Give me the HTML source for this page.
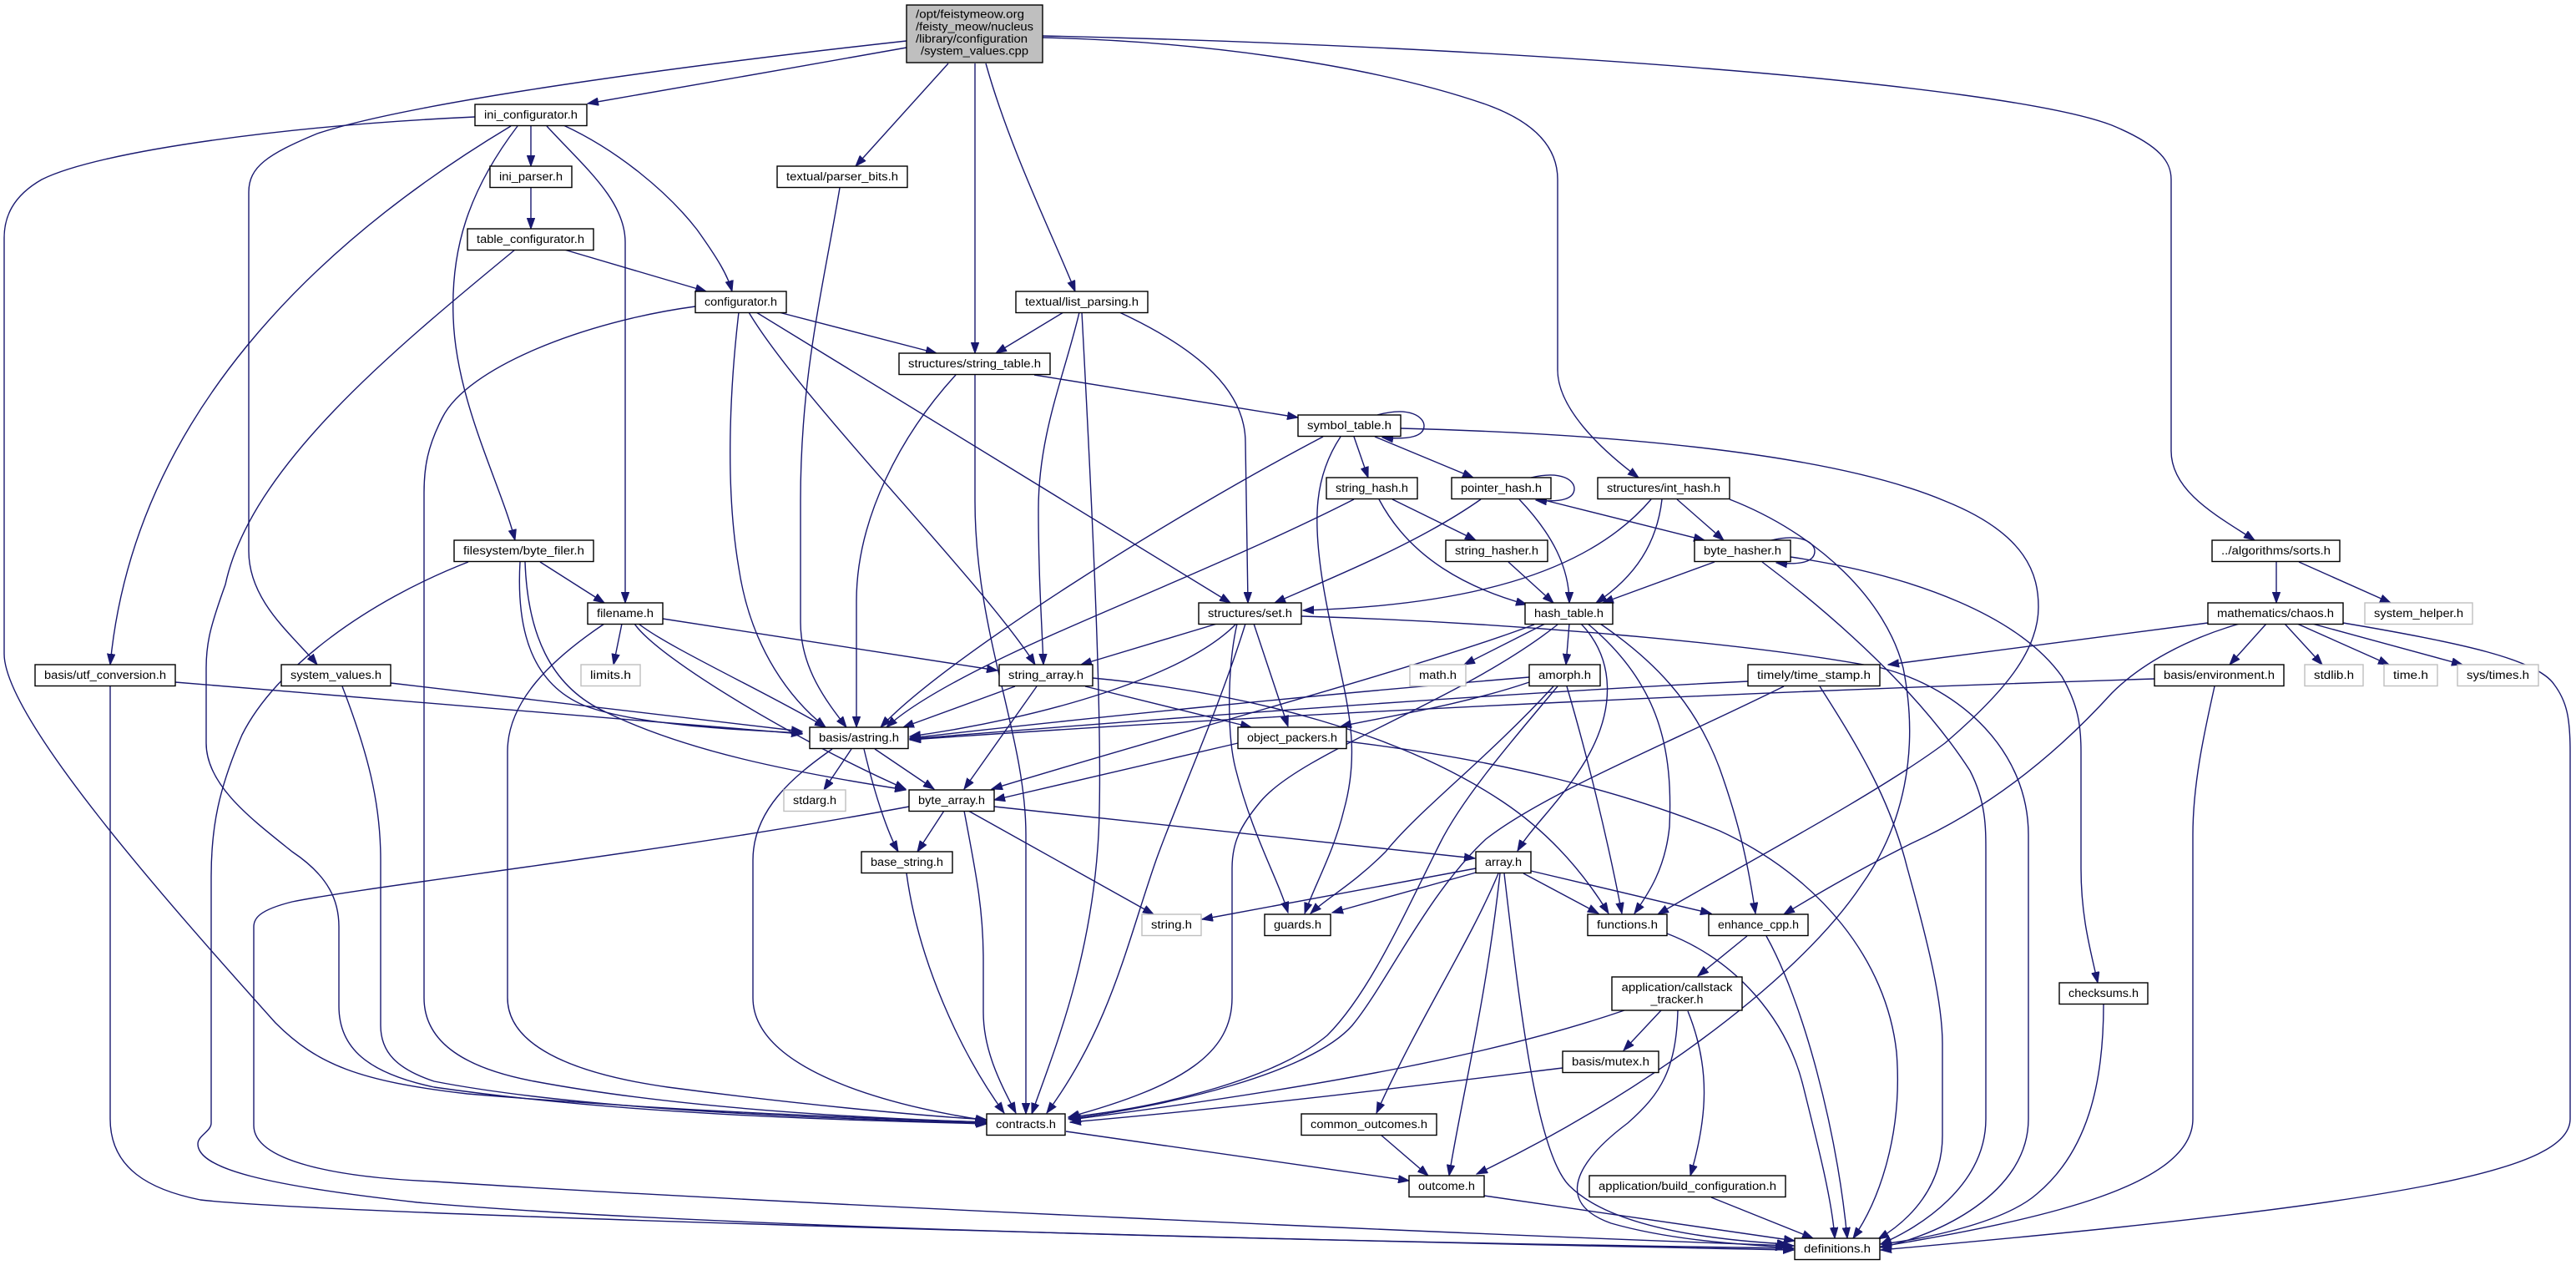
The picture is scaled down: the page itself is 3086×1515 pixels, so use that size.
<!DOCTYPE html>
<html><head><meta charset="utf-8"><style>
html,body{margin:0;padding:0;background:#fff;}
svg{display:block;}
.e{fill:none;stroke:#191970;stroke-width:1.4;marker-end:url(#a);}
.n{fill:#fff;stroke:#000;stroke-width:1.4;}
.g{fill:#fff;stroke:#bfbfbf;stroke-width:1.4;}
text{font-family:"Liberation Sans",sans-serif;font-size:13.5px;fill:#000;text-anchor:middle;}
</style></head><body>
<svg width="3086" height="1515" viewBox="0 0 3086 1515" xmlns="http://www.w3.org/2000/svg">
<defs><marker id="a" markerUnits="userSpaceOnUse" markerWidth="14" markerHeight="10" refX="13" refY="5" orient="auto"><path d="M0,0.3 L13,5 L0,9.7 Z" fill="#191970" stroke="#191970" stroke-width="1"/></marker></defs>
<rect width="3086" height="1515" fill="#fff"/>
<g>
<!-- root edges -->
<path class="e" d="M1086,57 C960,80 820,103 704,124"/>
<path class="e" d="M1086,49 C850,75 500,120 380,160 C320,185 298,200 298,230 L298,660 C298,720 350,760 380,796"/>
<path class="e" d="M1136,76 L1025,199"/>
<path class="e" d="M1168,76 L1168,423"/>
<path class="e" d="M1181,76 C1210,180 1265,290 1288,349"/>
<path class="e" d="M1249,45 C1450,50 1650,80 1780,125 C1850,150 1866,185 1866,215 L1866,443 C1866,490 1920,540 1963,572"/>
<path class="e" d="M1249,43 C1800,55 2400,100 2530,150 C2590,175 2601,195 2601,215 L2601,540 C2601,590 2660,620 2701,647"/>
<!-- ini_configurator -->
<path class="e" d="M636,150 L636,199"/>
<path class="e" d="M569,140 C350,150 120,180 50,215 C15,235 5,260 5,285 L5,783 C5,860 200,1080 330,1225 C380,1275 430,1295 560,1310 C800,1330 1000,1338 1181,1344"/>
<path class="e" d="M612,151 C380,290 160,500 132,796"/>
<path class="e" d="M620,151 C560,230 540,300 543,380 C546,480 600,580 617,647"/>
<path class="e" d="M655,151 C700,200 749,240 749,290 L749,722"/>
<path class="e" d="M675,150 C740,180 800,230 835,275 C860,310 872,330 877,349"/>
<path class="e" d="M636,225 L636,274"/>
<!-- table_configurator -->
<path class="e" d="M676,299 L846,349"/>
<path class="e" d="M617,299 C470,420 300,560 270,700 C252,750 247,770 247,800 L247,890 C247,940 300,980 350,1020 C395,1050 406,1080 406,1110 L406,1205 C406,1255 440,1285 520,1302 C750,1335 1000,1341 1182,1346"/>
<!-- parser_bits -->
<path class="e" d="M1006,225 C985,350 959,450 959,600 L959,745 C959,800 990,840 1014,871"/>
<!-- configurator -->
<path class="e" d="M933,374 L1122,423"/>
<path class="e" d="M833,367 C700,385 560,440 530,500 C512,535 508,560 508,590 L508,1195 C508,1250 560,1280 640,1295 C800,1325 1000,1338 1182,1344"/>
<path class="e" d="M885,374 C875,460 868,580 885,680 C900,780 950,840 989,871"/>
<path class="e" d="M897,374 C960,480 1180,700 1240,796"/>
<path class="e" d="M906,374 L1474,722"/>
<!-- list_parsing -->
<path class="e" d="M1274,374 L1193,423"/>
<path class="e" d="M1293,374 C1275,450 1244,520 1244,610 C1244,690 1248,745 1250,796"/>
<path class="e" d="M1296,374 C1308,600 1322,880 1316,1000 C1308,1150 1262,1260 1236,1334"/>
<path class="e" d="M1341,374 C1440,420 1492,470 1492,530 L1495,722"/>
<!-- string_table -->
<path class="e" d="M1145,449 C1080,520 1026,620 1026,720 L1026,871"/>
<path class="e" d="M1168,449 L1168,600 C1168,760 1229,880 1229,1000 L1229,1334"/>
<path class="e" d="M1239,449 L1555,500"/>
<!-- symbol_table -->
<path class="e" d="M1650,497 C1690,486 1706,500 1706,510 C1706,522 1690,527 1656,524"/>
<path class="e" d="M1678,513 C1950,520 2200,545 2330,600 C2430,640 2442,690 2442,727 C2442,780 2400,830 2330,890 C2250,950 2080,1040 1986,1095"/>
<path class="e" d="M1622,523 L1639,572"/>
<path class="e" d="M1647,523 L1765,572"/>
<path class="e" d="M1606,523 C1575,570 1572,620 1585,700 C1605,820 1635,880 1610,970 C1598,1020 1575,1060 1563,1094"/>
<path class="e" d="M1585,523 C1400,620 1130,790 1055,871"/>
<!-- string_hash -->
<path class="e" d="M1622,598 C1500,660 1350,720 1250,765 C1150,810 1090,845 1062,871"/>
<path class="e" d="M1652,598 C1690,670 1760,705 1829,724"/>
<path class="e" d="M1668,598 L1768,647"/>
<!-- pointer_hash -->
<path class="e" d="M1834,572 C1872,563 1886,576 1886,585 C1886,597 1872,602 1840,599"/>
<path class="e" d="M1774,598 C1700,650 1600,690 1527,722"/>
<path class="e" d="M1820,598 C1860,640 1880,680 1880,722"/>
<path class="e" d="M1846,598 L2042,647"/>
<!-- int_hash -->
<path class="e" d="M1978,598 C1900,690 1750,725 1561,731"/>
<path class="e" d="M1991,598 C1985,650 1960,690 1912,722"/>
<path class="e" d="M2009,598 L2065,647"/>
<path class="e" d="M2072,598 C2180,640 2260,720 2280,800 C2300,900 2280,990 2230,1060 C2150,1180 1950,1320 1769,1406"/>
<!-- byte_hasher -->
<path class="e" d="M2122,647 C2160,638 2174,651 2174,660 C2174,672 2160,677 2128,674"/>
<path class="e" d="M2054,673 L1920,722"/>
<path class="e" d="M2145,667 C2300,690 2420,740 2470,810 C2490,845 2493,870 2493,900 L2493,1040 C2493,1100 2505,1140 2513,1177"/>
<path class="e" d="M2111,673 C2200,740 2300,830 2360,923 C2379,960 2379,990 2379,1020 L2379,1340 C2379,1420 2300,1470 2253,1490"/>
<path class="e" d="M1807,673 L1861,722"/>
<!-- sorts -->
<path class="e" d="M2727,673 L2727,722"/>
<path class="e" d="M2754,673 L2864,722"/>
<!-- byte_filer -->
<path class="e" d="M647,673 L724,722"/>
<path class="e" d="M623,673 C618,760 640,820 700,845 C760,868 880,874 961,878"/>
<path class="e" d="M629,673 C632,760 660,820 720,850 C820,900 950,925 1085,946"/>
<path class="e" d="M561,673 C440,720 330,800 290,880 C262,945 253,990 253,1050 L253,1345 C253,1355 237,1360 237,1370 C237,1400 320,1420 500,1440 C900,1475 1800,1490 2149,1495"/>
<!-- utf / system_values -->
<path class="e" d="M210,817 L961,879"/>
<path class="e" d="M132,822 L132,1340 C132,1400 180,1425 240,1437 C400,1455 1500,1485 2149,1497"/>
<path class="e" d="M468,818 L961,876"/>
<path class="e" d="M410,822 C440,900 456,960 456,1030 L456,1228 C456,1260 475,1280 520,1295 C700,1330 1000,1340 1182,1345"/>
<!-- filename -->
<path class="e" d="M745,747 L735,796"/>
<path class="e" d="M794,741 L1195,803"/>
<path class="e" d="M765,747 C800,775 920,830 989,871"/>
<path class="e" d="M760,747 C790,790 960,890 1085,945"/>
<path class="e" d="M724,747 C660,790 608,840 608,900 L608,1195 C608,1250 680,1285 800,1302 C950,1322 1100,1336 1182,1341"/>
<!-- set -->
<path class="e" d="M1458,747 L1295,796"/>
<path class="e" d="M1481,747 C1420,810 1250,860 1090,882"/>
<path class="e" d="M1502,747 L1543,870"/>
<path class="e" d="M1482,747 C1470,800 1470,880 1480,920 C1500,1000 1530,1050 1543,1093"/>
<path class="e" d="M1492,747 C1460,850 1410,960 1385,1030 C1350,1130 1330,1230 1254,1333"/>
<path class="e" d="M1559,738 C1800,745 2100,770 2254,800 C2350,825 2430,900 2430,1000 L2430,1340 C2430,1430 2320,1480 2253,1494"/>
<!-- hash_table -->
<path class="e" d="M1851,747 L1754,796"/>
<path class="e" d="M1880,747 L1876,796"/>
<path class="e" d="M1894,747 C1935,790 1935,850 1900,910 C1870,960 1835,990 1818,1019"/>
<path class="e" d="M1902,747 C1990,820 2004,900 2000,990 C1995,1040 1975,1070 1958,1094"/>
<path class="e" d="M1917,747 C1980,790 2030,840 2060,920 C2085,990 2095,1040 2103,1094"/>
<path class="e" d="M1838,748 C1700,800 1400,880 1188,945"/>
<path class="e" d="M1866,748 C1750,840 1560,900 1510,960 C1485,990 1476,1010 1476,1040 L1476,1195 C1476,1260 1420,1300 1280,1338"/>
<!-- string_array -->
<path class="e" d="M1216,822 L1082,871"/>
<path class="e" d="M1242,822 L1155,945"/>
<path class="e" d="M1300,822 L1499,871"/>
<path class="e" d="M1309,812 C1500,830 1680,880 1800,960 C1860,1000 1900,1050 1927,1094"/>
<!-- amorph -->
<path class="e" d="M1832,811 C1600,830 1300,860 1090,884"/>
<path class="e" d="M1832,817 C1750,845 1650,860 1606,870"/>
<path class="e" d="M1861,822 C1780,910 1700,970 1660,1020 C1620,1060 1590,1075 1570,1094"/>
<path class="e" d="M1866,822 C1800,900 1750,960 1725,1010 C1680,1100 1640,1190 1590,1240 C1530,1290 1400,1325 1280,1338"/>
<path class="e" d="M1877,822 C1900,900 1925,1000 1943,1094"/>
<!-- time_stamp -->
<path class="e" d="M2094,816 C1800,830 1400,860 1090,885"/>
<path class="e" d="M2137,822 C2000,890 1850,950 1780,1005 C1710,1070 1660,1180 1620,1228 C1570,1285 1400,1325 1280,1340"/>
<path class="e" d="M2180,822 C2230,900 2265,960 2285,1040 C2310,1130 2327,1200 2327,1250 L2327,1360 C2327,1420 2290,1460 2250,1484"/>
<!-- environment -->
<path class="e" d="M2581,813 C2200,825 1600,850 1090,886"/>
<path class="e" d="M2653,822 C2640,880 2627,940 2627,1000 L2627,1340 C2627,1420 2450,1460 2253,1493"/>
<!-- chaos -->
<path class="e" d="M2645,746 L2262,796"/>
<path class="e" d="M2683,747 C2620,765 2565,795 2530,830 C2480,885 2400,960 2290,1010 C2220,1045 2170,1075 2137,1095"/>
<path class="e" d="M2715,747 L2671,796"/>
<path class="e" d="M2737,747 L2782,796"/>
<path class="e" d="M2752,747 L2862,796"/>
<path class="e" d="M2770,747 L2950,796"/>
<path class="e" d="M2807,746 C2950,770 3040,790 3060,820 C3075,840 3079,860 3079,900 L3079,1340 C3079,1400 2900,1440 2253,1497"/>
<!-- byte_array -->
<path class="e" d="M1131,971 L1099,1020"/>
<path class="e" d="M1155,971 C1170,1050 1178,1090 1178,1150 L1178,1212 C1178,1260 1200,1300 1217,1333"/>
<path class="e" d="M1191,966 C1400,990 1600,1010 1767,1028"/>
<path class="e" d="M1160,971 L1382,1095"/>
<path class="e" d="M1089,966 C800,1020 450,1060 350,1080 C310,1090 304,1100 304,1110 L304,1348 C304,1390 400,1410 520,1415 C900,1440 1800,1480 2149,1492"/>
<!-- astring -->
<path class="e" d="M1020,897 L987,946"/>
<path class="e" d="M1048,897 L1119,945"/>
<path class="e" d="M1035,897 C1050,960 1065,1000 1076,1020"/>
<path class="e" d="M997,897 C950,930 902,970 902,1030 L902,1195 C902,1290 1100,1330 1182,1342"/>
<!-- base_string -->
<path class="e" d="M1086,1046 C1100,1150 1150,1260 1203,1333"/>
<!-- object_packers -->
<path class="e" d="M1483,890 L1191,958"/>
<path class="e" d="M1613,888 C1800,910 1950,950 2060,995 C2180,1050 2260,1150 2272,1260 C2280,1360 2250,1440 2220,1483"/>
<!-- array -->
<path class="e" d="M1768,1040 L1440,1101"/>
<path class="e" d="M1768,1045 L1596,1093"/>
<path class="e" d="M1825,1046 L1915,1094"/>
<path class="e" d="M1834,1043 L2050,1094"/>
<path class="e" d="M1795,1046 C1760,1130 1700,1220 1649,1333"/>
<path class="e" d="M1797,1046 C1780,1200 1750,1320 1736,1408"/>
<path class="e" d="M1802,1046 C1820,1200 1840,1380 1880,1420 C1930,1470 2050,1485 2142,1490"/>
<!-- functions / enhance / callstack -->
<path class="e" d="M1997,1118 C2080,1150 2140,1220 2160,1300 C2180,1380 2195,1440 2198,1483"/>
<path class="e" d="M2093,1121 L2034,1169"/>
<path class="e" d="M2116,1121 C2160,1200 2200,1350 2213,1483"/>
<path class="e" d="M1990,1210 L1945,1258"/>
<path class="e" d="M1946,1210 C1800,1260 1600,1300 1282,1341"/>
<path class="e" d="M2022,1211 C2050,1280 2045,1340 2025,1408"/>
<path class="e" d="M2010,1210 C2008,1280 1990,1310 1950,1345 C1890,1390 1860,1440 1930,1465 C2000,1485 2080,1490 2140,1494"/>
<path class="e" d="M1872,1279 C1700,1300 1500,1325 1282,1344"/>
<path class="e" d="M1654,1359 L1711,1408"/>
<path class="e" d="M1277,1355 L1688,1414"/>
<path class="e" d="M1778,1432 L2150,1486"/>
<path class="e" d="M2050,1434 L2172,1483"/>
<path class="e" d="M2520,1203 C2520,1300 2500,1380 2440,1430 C2400,1465 2300,1485 2253,1490"/>
</g>
<g>
<rect x="1086" y="6" width="163" height="69" fill="#bfbfbf" stroke="#000" stroke-width="1.4"/>
<text x="1097" y="21.5" textLength="130" lengthAdjust="spacingAndGlyphs" style="text-anchor:start">/opt/feistymeow.org</text>
<text x="1097" y="36.3" textLength="141" lengthAdjust="spacingAndGlyphs" style="text-anchor:start">/feisty_meow/nucleus</text>
<text x="1097" y="51" textLength="134" lengthAdjust="spacingAndGlyphs" style="text-anchor:start">/library/configuration</text>
<text x="1103" y="65.7" textLength="129" lengthAdjust="spacingAndGlyphs" style="text-anchor:start">/system_values.cpp</text>

<rect class="n" x="569" y="125" width="134" height="25.5"/><text x="636" y="141.8" textLength="112" lengthAdjust="spacingAndGlyphs">ini_configurator.h</text>
<rect class="n" x="587" y="199" width="98" height="25.5"/><text x="636" y="215.8" textLength="76" lengthAdjust="spacingAndGlyphs">ini_parser.h</text>
<rect class="n" x="560" y="274" width="151" height="25.5"/><text x="635.5" y="290.8" textLength="129" lengthAdjust="spacingAndGlyphs">table_configurator.h</text>
<rect class="n" x="931" y="199" width="156" height="25.5"/><text x="1009" y="215.8" textLength="134" lengthAdjust="spacingAndGlyphs">textual/parser_bits.h</text>
<rect class="n" x="833" y="349" width="109" height="25.5"/><text x="887.5" y="365.8" textLength="87" lengthAdjust="spacingAndGlyphs">configurator.h</text>
<rect class="n" x="1217" y="349" width="158" height="25.5"/><text x="1296" y="365.8" textLength="136" lengthAdjust="spacingAndGlyphs">textual/list_parsing.h</text>
<rect class="n" x="1077" y="423" width="181" height="25.5"/><text x="1167.5" y="439.8" textLength="159" lengthAdjust="spacingAndGlyphs">structures/string_table.h</text>
<rect class="n" x="1555" y="497" width="123" height="25.5"/><text x="1616.5" y="513.8" textLength="101" lengthAdjust="spacingAndGlyphs">symbol_table.h</text>
<rect class="n" x="1589" y="572" width="109" height="25.5"/><text x="1643.5" y="588.8" textLength="87" lengthAdjust="spacingAndGlyphs">string_hash.h</text>
<rect class="n" x="1739" y="572" width="119" height="25.5"/><text x="1798.5" y="588.8" textLength="97" lengthAdjust="spacingAndGlyphs">pointer_hash.h</text>
<rect class="n" x="1914" y="572" width="158" height="25.5"/><text x="1993" y="588.8" textLength="136" lengthAdjust="spacingAndGlyphs">structures/int_hash.h</text>
<rect class="n" x="1732" y="647" width="122" height="25.5"/><text x="1793" y="663.8" textLength="100" lengthAdjust="spacingAndGlyphs">string_hasher.h</text>
<rect class="n" x="2030" y="647" width="115" height="25.5"/><text x="2087.5" y="663.8" textLength="93" lengthAdjust="spacingAndGlyphs">byte_hasher.h</text>
<rect class="n" x="2650" y="647" width="153" height="25.5"/><text x="2726.5" y="663.8" textLength="131" lengthAdjust="spacingAndGlyphs">../algorithms/sorts.h</text>
<rect class="n" x="544" y="647" width="167" height="25.5"/><text x="627.5" y="663.8" textLength="145" lengthAdjust="spacingAndGlyphs">filesystem/byte_filer.h</text>
<rect class="n" x="704" y="722" width="90" height="25.5"/><text x="749" y="738.8" textLength="68" lengthAdjust="spacingAndGlyphs">filename.h</text>
<rect class="n" x="1436" y="722" width="123" height="25.5"/><text x="1497.5" y="738.8" textLength="101" lengthAdjust="spacingAndGlyphs">structures/set.h</text>
<rect class="n" x="1827" y="722" width="105" height="25.5"/><text x="1879.5" y="738.8" textLength="83" lengthAdjust="spacingAndGlyphs">hash_table.h</text>
<rect class="n" x="2645" y="722" width="162" height="25.5"/><text x="2726" y="738.8" textLength="140" lengthAdjust="spacingAndGlyphs">mathematics/chaos.h</text>
<rect class="g" x="2833" y="722" width="129" height="25.5"/><text x="2897.5" y="738.8" textLength="107" lengthAdjust="spacingAndGlyphs">system_helper.h</text>
<rect class="n" x="42" y="796" width="168" height="25.5"/><text x="126" y="812.8" textLength="146" lengthAdjust="spacingAndGlyphs">basis/utf_conversion.h</text>
<rect class="n" x="337" y="796" width="131" height="25.5"/><text x="402.5" y="812.8" textLength="109" lengthAdjust="spacingAndGlyphs">system_values.h</text>
<rect class="g" x="696" y="796" width="71" height="25.5"/><text x="731.5" y="812.8" textLength="49" lengthAdjust="spacingAndGlyphs">limits.h</text>
<rect class="n" x="1197" y="796" width="112" height="25.5"/><text x="1253" y="812.8" textLength="90" lengthAdjust="spacingAndGlyphs">string_array.h</text>
<rect class="g" x="1689" y="796" width="67" height="25.5"/><text x="1722.5" y="812.8" textLength="45" lengthAdjust="spacingAndGlyphs">math.h</text>
<rect class="n" x="1832" y="796" width="85" height="25.5"/><text x="1874.5" y="812.8" textLength="63" lengthAdjust="spacingAndGlyphs">amorph.h</text>
<rect class="n" x="2094" y="796" width="158" height="25.5"/><text x="2173" y="812.8" textLength="136" lengthAdjust="spacingAndGlyphs">timely/time_stamp.h</text>
<rect class="n" x="2581" y="796" width="155" height="25.5"/><text x="2658.5" y="812.8" textLength="133" lengthAdjust="spacingAndGlyphs">basis/environment.h</text>
<rect class="g" x="2761" y="796" width="70" height="25.5"/><text x="2796" y="812.8" textLength="48" lengthAdjust="spacingAndGlyphs">stdlib.h</text>
<rect class="g" x="2856" y="796" width="64" height="25.5"/><text x="2888" y="812.8" textLength="42" lengthAdjust="spacingAndGlyphs">time.h</text>
<rect class="g" x="2944" y="796" width="97" height="25.5"/><text x="2992.5" y="812.8" textLength="75" lengthAdjust="spacingAndGlyphs">sys/times.h</text>
<rect class="n" x="970" y="871" width="118" height="25.5"/><text x="1029" y="887.8" textLength="96" lengthAdjust="spacingAndGlyphs">basis/astring.h</text>
<rect class="n" x="1483" y="871" width="130" height="25.5"/><text x="1548" y="887.8" textLength="108" lengthAdjust="spacingAndGlyphs">object_packers.h</text>
<rect class="g" x="939" y="946" width="74" height="25.5"/><text x="976" y="962.8" textLength="52" lengthAdjust="spacingAndGlyphs">stdarg.h</text>
<rect class="n" x="1089" y="946" width="102" height="25.5"/><text x="1140" y="962.8" textLength="80" lengthAdjust="spacingAndGlyphs">byte_array.h</text>
<rect class="n" x="1032" y="1020" width="109" height="25.5"/><text x="1086.5" y="1036.8" textLength="87" lengthAdjust="spacingAndGlyphs">base_string.h</text>
<rect class="n" x="1768" y="1020" width="66" height="25.5"/><text x="1801" y="1036.8" textLength="44" lengthAdjust="spacingAndGlyphs">array.h</text>
<rect class="g" x="1368" y="1095" width="71" height="25.5"/><text x="1403.5" y="1111.8" textLength="49" lengthAdjust="spacingAndGlyphs">string.h</text>
<rect class="n" x="1515" y="1095" width="79" height="25.5"/><text x="1554.5" y="1111.8" textLength="57" lengthAdjust="spacingAndGlyphs">guards.h</text>
<rect class="n" x="1902" y="1095" width="95" height="25.5"/><text x="1949.5" y="1111.8" textLength="73" lengthAdjust="spacingAndGlyphs">functions.h</text>
<rect class="n" x="2047" y="1095" width="119" height="25.5"/><text x="2106.5" y="1111.8" textLength="97" lengthAdjust="spacingAndGlyphs">enhance_cpp.h</text>
<rect class="n" x="2467" y="1177" width="106" height="25.5"/><text x="2520" y="1193.8" textLength="84" lengthAdjust="spacingAndGlyphs">checksums.h</text>
<rect class="n" x="1931" y="1170" width="156" height="40"/><text x="2009" y="1187" textLength="133" lengthAdjust="spacingAndGlyphs">application/callstack</text><text x="2009" y="1201.5" textLength="63" lengthAdjust="spacingAndGlyphs">_tracker.h</text>
<rect class="n" x="1872" y="1259" width="115" height="25.5"/><text x="1929.5" y="1275.8" textLength="93" lengthAdjust="spacingAndGlyphs">basis/mutex.h</text>
<rect class="n" x="1182" y="1334" width="94" height="25.5"/><text x="1229" y="1350.8" textLength="72" lengthAdjust="spacingAndGlyphs">contracts.h</text>
<rect class="n" x="1559" y="1334" width="162" height="25.5"/><text x="1640" y="1350.8" textLength="140" lengthAdjust="spacingAndGlyphs">common_outcomes.h</text>
<rect class="n" x="1688" y="1408" width="90" height="25.5"/><text x="1733" y="1424.8" textLength="68" lengthAdjust="spacingAndGlyphs">outcome.h</text>
<rect class="n" x="1904" y="1408" width="235" height="25.5"/><text x="2021.5" y="1424.8" textLength="213" lengthAdjust="spacingAndGlyphs">application/build_configuration.h</text>
<rect class="n" x="2150" y="1483" width="102" height="25.5"/><text x="2201" y="1499.8" textLength="80" lengthAdjust="spacingAndGlyphs">definitions.h</text>
</g>
</svg>
</body></html>
